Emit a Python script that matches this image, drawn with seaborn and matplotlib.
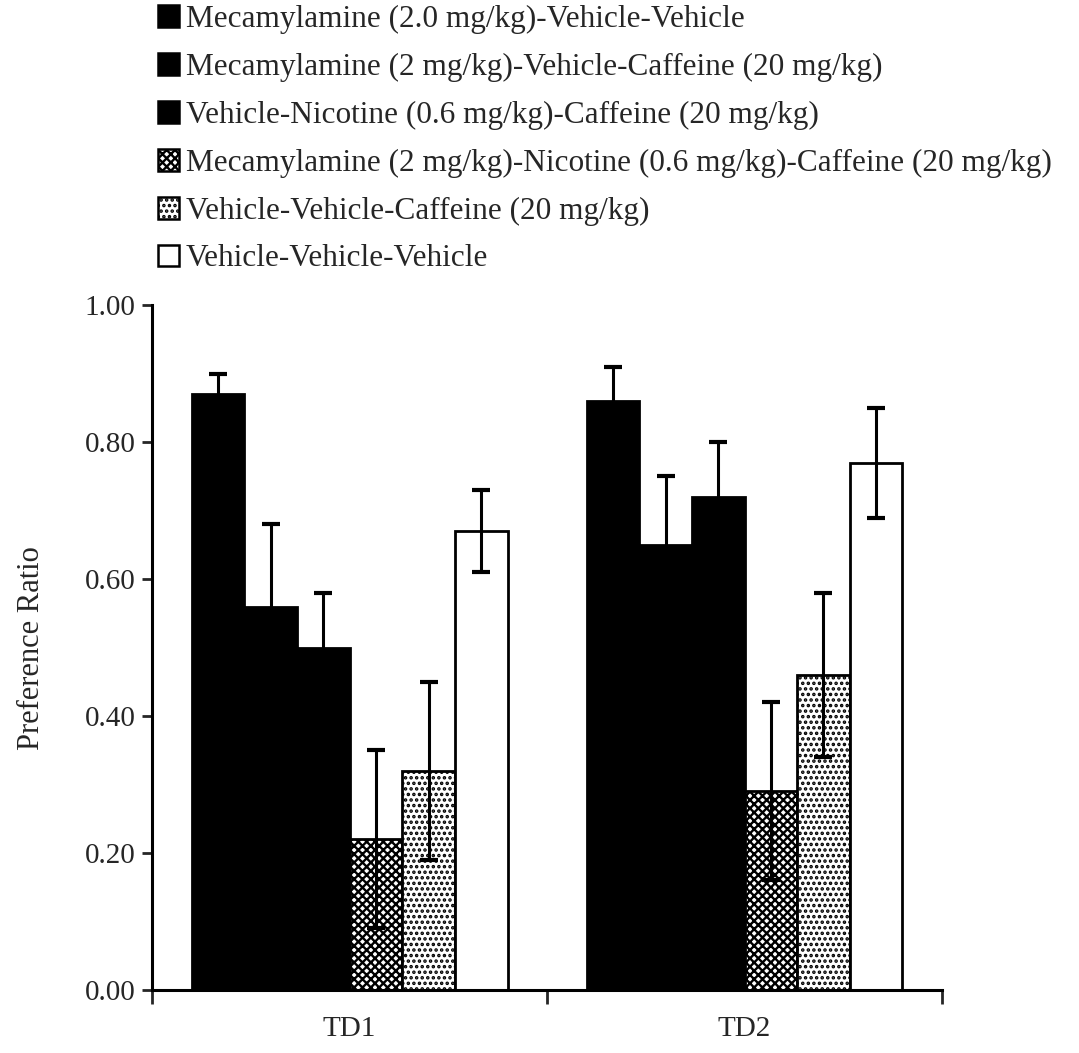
import matplotlib
matplotlib.use("Agg")
import matplotlib.pyplot as plt
from matplotlib.patches import Patch
from matplotlib.container import BarContainer
import seaborn as sns
import pandas as pd

# ---- data ----
days = ["TD1", "TD2"]
conditions = [
    "Mecamylamine (2.0 mg/kg)-Vehicle-Vehicle",
    "Mecamylamine (2 mg/kg)-Vehicle-Caffeine (20 mg/kg)",
    "Vehicle-Nicotine (0.6 mg/kg)-Caffeine (20 mg/kg)",
    "Mecamylamine (2 mg/kg)-Nicotine (0.6 mg/kg)-Caffeine (20 mg/kg)",
    "Vehicle-Vehicle-Caffeine (20 mg/kg)",
    "Vehicle-Vehicle-Vehicle",
]
td1_means = [0.87, 0.56, 0.50, 0.22, 0.32, 0.67]
td2_means = [0.86, 0.65, 0.72, 0.29, 0.46, 0.77]
td1_sem = [0.03, 0.12, 0.08, 0.13, 0.13, 0.06]
td2_sem = [0.05, 0.10, 0.08, 0.13, 0.12, 0.08]
yticks = [0.0, 0.2, 0.4, 0.6, 0.8, 1.0]
ytick_labels = ["0.00", "0.20", "0.40", "0.60", "0.80", "1.00"]

# ---- styles ----
face_colors = ["black", "black", "black", "white", "white", "white"]
hatches = [None, None, None, "xxxx", "...", None]

sns.set_theme(style="white")
plt.rcParams["font.family"] = ["Liberation Serif", "DejaVu Serif"]
plt.rcParams["hatch.linewidth"] = 1.7
plt.rcParams["hatch.color"] = "black"

rows = []
for c, m1, m2 in zip(conditions, td1_means, td2_means):
    rows.append({"day": "TD1", "condition": c, "ratio": m1})
    rows.append({"day": "TD2", "condition": c, "ratio": m2})
df = pd.DataFrame(rows)

fig = plt.figure(figsize=(10.79, 10.53), dpi=100)
ax = fig.add_axes([0.141, 0.060, 0.732, 0.650])

sns.barplot(data=df, x="day", y="ratio", hue="condition", order=days,
            hue_order=conditions, palette=face_colors, saturation=1,
            edgecolor="black", linewidth=2, width=0.8, errorbar=None,
            legend=False, ax=ax)

bar_containers = [c for c in ax.containers if isinstance(c, BarContainer)]
sems = list(zip(td1_sem, td2_sem))
for i, cont in enumerate(bar_containers):
    xs, ys = [], []
    for bar in cont:
        if hatches[i]:
            bar.set_hatch(hatches[i])
        xs.append(bar.get_x() + bar.get_width() / 2)
        ys.append(bar.get_height())
    ax.errorbar(xs, ys, yerr=list(sems[i]), fmt="none", ecolor="black",
                elinewidth=2.2, capsize=6.5, capthick=3, zorder=5)

ax.set_xlim(-0.5, 1.5)
ax.set_ylim(0, 1.0)
ax.set_yticks(yticks)
ax.set_yticklabels(ytick_labels)
ax.set_xticks([0, 1])
ax.set_xticklabels(days)
ax.set_xticks([-0.5, 0.5, 1.5], minor=True)
ax.tick_params(axis="x", which="major", length=0, pad=19, labelsize=21)
ax.tick_params(axis="x", which="minor", length=10, width=2, direction="out",
               bottom=True)
ax.tick_params(axis="y", length=7, width=2, direction="out", left=True,
               labelsize=21, pad=5)
ax.set_xlabel("")
ax.set_ylabel("Preference Ratio", fontsize=22, labelpad=28)

for s in ["top", "right"]:
    ax.spines[s].set_visible(False)
for s in ["left", "bottom"]:
    ax.spines[s].set_linewidth(2.2)
    ax.spines[s].set_color("black")

handles = [Patch(facecolor=fc, edgecolor="black", hatch=h, linewidth=1.8, label=lab)
           for fc, h, lab in zip(face_colors, hatches, conditions)]
fig.legend(handles=handles, loc="upper left", bbox_to_anchor=(0.146, 0.995),
           frameon=False, fontsize=22.5, handlelength=0.7, handleheight=0.7,
           handletextpad=0.2, labelspacing=0.6, borderaxespad=0,
           borderpad=0)

fig.savefig("out.png", dpi=100)
